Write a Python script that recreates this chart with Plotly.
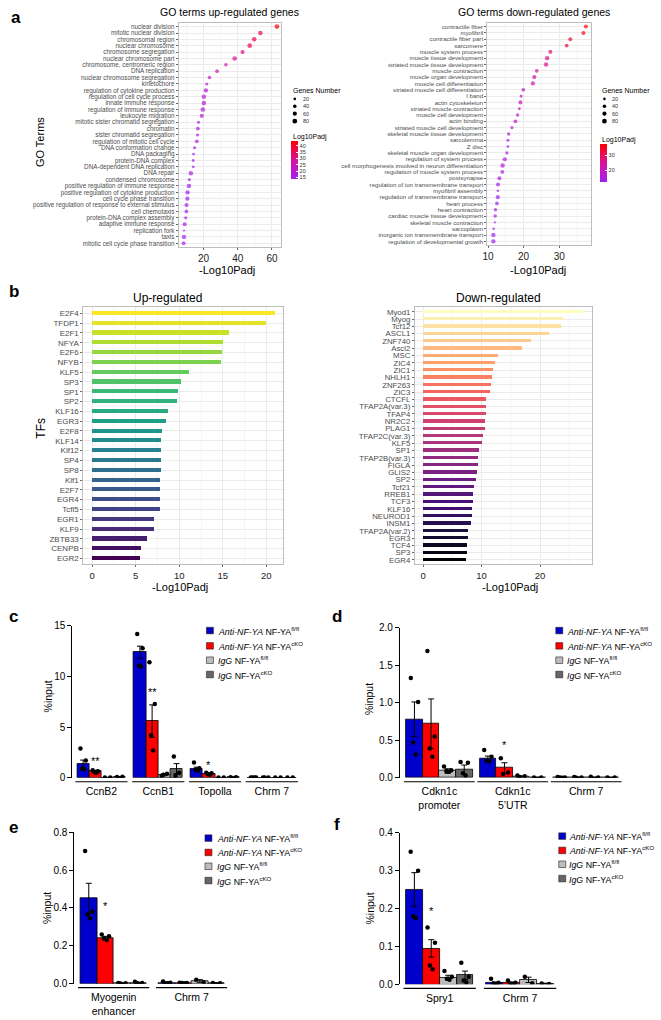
import math
import plotly.graph_objects as go
from plotly.colors import sample_colorscale, sequential

W, H = 661, 1020
FONT = "Arial, Liberation Sans, sans-serif"

# ---------------- panel a : GO terms ----------------
up_terms = ["nuclear division", "mitotic nuclear division", "chromosomal region", "nuclear chromosome",
            "chromosome segregation", "nuclear chromosome part", "chromosome, centromeric region",
            "DNA replication", "nuclear chromosome segregation", "kinetochore",
            "regulation of cytokine production", "regulation of cell cycle process", "innate immune response",
            "regulation of immune response", "leukocyte migration", "mitotic sister chromatid segregation",
            "chromatin", "sister chromatid segregation", "regulation of mitotic cell cycle",
            "DNA conformation change", "DNA packaging", "protein-DNA complex", "DNA-dependent DNA replication",
            "DNA repair", "condensed chromosome", "positive regulation of immune response",
            "positive regulation of cytokine production", "cell cycle phase transition",
            "positive regulation of response to external stimulus", "cell chemotaxis",
            "protein-DNA complex assembly", "adaptive immune response", "replication fork", "taxis",
            "mitotic cell cycle phase transition"]
up_padj = [62.9, 53.2, 49.6, 47.0, 42.8, 38.2, 33.1, 27.9, 23.5, 21.9, 21.4, 20.2, 20.2, 19.6, 19.0,
           17.1, 16.7, 16.5, 16.1, 14.8, 14.2, 14.0, 14.0, 12.6, 11.7, 11.5, 10.7, 10.6, 10.1, 10.0,
           9.6, 9.0, 8.6, 8.6, 8.4]
up_color = [42.5, 37.5, 35.5, 34.5, 32.0, 30.0, 27.0, 24.0, 21.0, 20.0, 19.5, 19.0, 19.0, 18.5, 18.0,
            17.0, 17.0, 16.5, 16.5, 16.0, 15.5, 15.5, 15.5, 15.0, 14.5, 14.5, 14.0, 14.0, 14.0, 14.0,
            13.8, 13.8, 13.6, 13.6, 13.5]
up_genes = [80, 75, 70, 80, 60, 75, 40, 45, 40, 30, 65, 70, 75, 75, 55, 30, 50, 30, 45, 30, 25, 25, 25,
            70, 30, 70, 65, 60, 60, 45, 30, 55, 15, 65, 50]

down_terms = ["contractile fiber", "myofibril", "contractile fiber part", "sarcomere", "muscle system process",
              "muscle tissue development", "striated muscle tissue development", "muscle contraction",
              "muscle organ development", "muscle cell differentiation", "striated muscle cell differentiation",
              "I band", "actin cytoskeleton", "striated muscle contraction", "muscle cell development",
              "actin binding", "striated muscle cell development", "skeletal muscle tissue development",
              "sarcolemma", "Z disc", "skeletal muscle organ development", "regulation of system process",
              "cell morphogenesis involved in neuron differentiation", "regulation of muscle system process",
              "postsynapse", "regulation of ion transmembrane transport", "myofibril assembly",
              "regulation of transmembrane transport", "heart process", "heart contraction",
              "cardiac muscle tissue development", "skeletal muscle contraction", "sarcoplasm",
              "inorganic ion transmembrane transport", "regulation of developmental growth"]
down_padj = [37.5, 36.8, 33.1, 32.1, 27.5, 26.6, 26.3, 23.7, 23.0, 22.6, 19.9, 19.3, 19.1, 18.8, 18.3,
             17.7, 16.7, 15.8, 15.6, 15.6, 15.3, 14.7, 14.1, 14.0, 13.2, 12.8, 12.75, 12.75, 12.5, 12.1,
             12.0, 11.9, 11.6, 11.5, 11.5]
down_genes = [55, 55, 50, 45, 55, 65, 65, 45, 60, 60, 45, 30, 55, 25, 35, 50, 30, 35, 30, 25, 35, 60,
              70, 45, 55, 55, 20, 60, 45, 40, 40, 15, 20, 65, 65]
size_keys = [20, 40, 60, 80]

# ---------------- panel b : TFs ----------------
tf_up = ["E2F4", "TFDP1", "E2F1", "NFYA", "E2F6", "NFYB", "KLF5", "SP3", "SP1", "SP2", "KLF16", "EGR3",
         "E2F8", "KLF14", "Klf12", "SP4", "SP8", "Klf1", "E2F7", "EGR4", "Tcfl5", "EGR1", "KLF9", "ZBTB33",
         "CENPB", "EGR2"]
tf_up_val = [21.0, 20.0, 15.8, 15.1, 14.9, 14.85, 11.2, 10.2, 9.9, 9.8, 8.8, 8.5, 8.1, 7.95, 7.95, 7.9,
             7.9, 7.85, 7.8, 7.8, 7.8, 7.2, 7.2, 6.3, 5.7, 5.6]
tf_down = ["Myod1", "Myog", "Tcf12", "ASCL1", "ZNF740", "Ascl2", "MSC", "ZIC4", "ZIC1", "NHLH1", "ZNF263",
           "ZIC3", "CTCFL", "TFAP2A(var.3)", "TFAP4", "NR2C2", "PLAG1", "TFAP2C(var.3)", "KLF5", "SP1",
           "TFAP2B(var.3)", "FIGLA", "GLIS2", "SP2", "Tcf21", "RREB1", "TCF3", "KLF16", "NEUROD1", "INSM1",
           "TFAP2A(var.2)", "EGR3", "TCF4", "SP3", "EGR4"]
tf_down_val = [27.5, 23.9, 23.5, 21.5, 18.5, 16.9, 12.8, 12.3, 12.0, 11.7, 11.6, 11.5, 10.8, 10.75, 10.7,
               10.5, 10.5, 10.2, 10.0, 9.6, 9.4, 9.3, 9.25, 9.1, 8.7, 8.6, 8.5, 8.35, 8.3, 8.25, 7.7,
               7.6, 7.5, 7.45, 7.35]

# ---------------- panels c-f : ChIP-qPCR ----------------
series_names = ["<i>Anti-NF-YA</i> NF-YA<sup>fl/fl</sup>", "<i>Anti-NF-YA</i> NF-YA<sup>cKO</sup>",
                "<i>IgG</i> NF-YA<sup>fl/fl</sup>", "<i>IgG</i> NF-YA<sup>cKO</sup>"]

c_groups = ["CcnB2", "CcnB1", "Topolla", "Chrm 7"]
c_mean = [[1.35, 12.4, 0.85, 0.02], [0.65, 5.6, 0.4, 0.02], [0.03, 0.3, 0.03, 0.02], [0.08, 0.9, 0.05, 0.02]]
c_sem = [[0.4, 0.6, 0.2, 0.01], [0.1, 1.6, 0.08, 0.01], [0.02, 0.1, 0.01, 0.01], [0.03, 0.5, 0.02, 0.01]]
c_pts = [[[2.9, 1.7, 0.9, 0.85], [14.2, 12.8, 11.1, 11.0], [1.5, 0.95, 0.8, 0.7], [0.02, 0.02, 0.02, 0.02]],
         [[0.75, 0.65, 0.55, 0.5], [11.4, 7.3, 4.2, 2.7], [0.5, 0.45, 0.35, 0.3], [0.02, 0.02, 0.02]],
         [[0.02, 0.03], [0.2, 0.4, 0.3], [0.03, 0.03], [0.02, 0.02]],
         [[0.08, 0.1], [2.1, 0.5, 0.2], [0.05, 0.06], [0.02, 0.02]]]
c_sig = ["**", "**", "*", ""]
c_sig_y = [1.9, 8.7, 1.45, 0]

d_groups = ["Cdkn1c<br>promoter", "Cdkn1c<br>5’UTR", "Chrm 7"]
d_mean = [[0.78, 0.25, 0.004], [0.72, 0.13, 0.004], [0.09, 0.02, 0.006], [0.11, 0.005, 0.004]]
d_sem = [[0.23, 0.04, 0.002], [0.33, 0.07, 0.002], [0.03, 0.005, 0.003], [0.06, 0.002, 0.002]]
d_pts = [[[1.33, 1.01, 0.47, 0.31], [0.37, 0.28, 0.23, 0.22], [0.01, 0.005, 0.003, 0.002]],
         [[1.69, 0.55, 0.39, 0.28], [0.26, 0.07, 0.05], [0.01, 0.005, 0.002]],
         [[0.15, 0.10, 0.09, 0.08], [0.03, 0.02, 0.01], [0.015, 0.005]],
         [[0.21, 0.2, 0.06, 0.03], [0.005, 0.004], [0.005, 0.003]]]
d_sig = ["", "*", ""]
d_sig_y = [0, 0.46, 0]

e_groups = ["Myogenin<br>enhancer", "Chrm 7"]
e_mean = [[0.45, 0.005], [0.24, 0.004], [0.002, 0.014], [0.005, 0.003]]
e_sem = [[0.08, 0.003], [0.01, 0.002], [0.001, 0.007], [0.003, 0.002]]
e_pts = [[[0.70, 0.38, 0.366, 0.345], [0.012, 0.005, 0.002, 0.002]],
         [[0.26, 0.25, 0.24, 0.23], [0.005, 0.004, 0.003, 0.002]],
         [[0.003, 0.002, 0.001], [0.02, 0.008]],
         [[0.01, 0.004, 0.002], [0.003, 0.002]]]
e_sig = ["*", ""]
e_sig_y = [0.42, 0]

f_groups = ["Spry1", "Chrm 7"]
f_mean = [[0.25, 0.004], [0.095, 0.004], [0.018, 0.012], [0.024, 0.002]]
f_sem = [[0.045, 0.002], [0.023, 0.002], [0.006, 0.007], [0.011, 0.001]]
f_pts = [[[0.35, 0.30, 0.18, 0.175], [0.015, 0.004, 0.002, 0.001]],
         [[0.15, 0.11, 0.05, 0.04], [0.01, 0.004, 0.002, 0.001]],
         [[0.035, 0.02, 0.015, 0.012], [0.02, 0.003]],
         [[0.057, 0.02, 0.01, 0.005], [0.002, 0.001]]]
f_sig = ["*", ""]
f_sig_y = [0.20, 0]

# ---------------- styles ----------------
GO_SCALE = [[0, "#A020F0"], [0.5, "#D8119C"], [1, "#FF0000"]]
BAR_COLORS = ["#0000CC", "#FF0000", "#BDBDBD", "#666666"]
JIT = [-0.22, 0.22, -0.08, 0.08]


def dom_x(x0, x1):
    return [x0 / W, x1 / W]


def dom_y(y0, y1):
    return [1 - y1 / H, 1 - y0 / H]


def dot_px(n):
    # ggplot-like area scale for "Genes Number"
    return 1.2 + 3.8 * math.sqrt(max(n - 10, 0) / 80)


annotations = []
shapes = []


def txt(t, x, y, size, color="black", xanchor="center", yanchor="middle", angle=0):
    annotations.append(dict(text=t, x=x / W, y=1 - y / H, xref="paper", yref="paper", showarrow=False,
                            xanchor=xanchor, yanchor=yanchor, textangle=angle,
                            font=dict(size=size, color=color, family=FONT)))


fig = go.Figure()

# ---- a: dot plots ----
go_panels = [
    (up_padj, up_terms, up_color, up_genes, "", 13.5, 43.5, [15, 20, 25, 30, 35, 40], 288, 137),
    (down_padj, down_terms, down_padj, down_genes, "2", 11.6, 37.5, [20, 30], 600, 140),
]
for xs, ys, cs, gs, ax, cmin, cmax, cticks, lx, cby in go_panels:
    fig.add_trace(go.Scatter(
        x=xs, y=ys, mode="markers", xaxis="x" + ax, yaxis="y" + ax, showlegend=False,
        marker=dict(size=[dot_px(n) for n in gs], color=cs, colorscale=GO_SCALE, cmin=cmin, cmax=cmax,
                    line_width=0,
                    colorbar=dict(x=lx / W, xanchor="left", y=1 - cby / H, yanchor="top", len=38,
                                  lenmode="pixels", thickness=7, xpad=0, ypad=0, outlinewidth=0,
                                  tickvals=cticks, ticks="inside", ticklen=2, tickcolor="white",
                                  tickfont=dict(size=5.5, color="#333", family=FONT)))))
    # size legend
    txt("Genes Number", lx, 85, 7, xanchor="left")
    for i, k in enumerate(size_keys):
        cy = 94 + i * 7.5
        d = dot_px(k)
        shapes.append(dict(type="circle", xref="paper", yref="paper", xsizemode="pixel", ysizemode="pixel",
                           xanchor=(lx + 4) / W, yanchor=1 - cy / H, x0=-d / 2, x1=d / 2, y0=-d / 2, y1=d / 2,
                           fillcolor="black", line_width=0))
        txt(str(k), lx + 10, cy, 5.5, color="#333", xanchor="left")
    txt("Log10Padj", lx, cby - 4, 7, xanchor="left")

# ---- b: TF bars ----
viridis = sample_colorscale(sequential.Viridis, [1 - i / (len(tf_up) - 1) for i in range(len(tf_up))])
magma = sample_colorscale(sequential.Magma, [1 - i / (len(tf_down) - 1) for i in range(len(tf_down))])
fig.add_trace(go.Bar(x=tf_up_val, y=tf_up, orientation="h", marker=dict(color=viridis, line_width=0),
                     width=0.42, xaxis="x3", yaxis="y3", showlegend=False))
fig.add_trace(go.Bar(x=tf_down_val, y=tf_down, orientation="h", marker=dict(color=magma, line_width=0),
                     width=0.45, xaxis="x4", yaxis="y4", showlegend=False))

# ---- c-f: ChIP bar charts ----
bar_panels = [
    ("5", c_groups, c_mean, c_sem, c_pts, c_sig, c_sig_y, 0.215, 154),
    ("6", d_groups, d_mean, d_sem, d_pts, d_sig, d_sig_y, 0.226, 152),
    ("7", e_groups, e_mean, e_sem, e_pts, e_sig, e_sig_y, 0.213, 153),
    ("8", f_groups, f_mean, f_sem, f_pts, f_sig, f_sig_y, 0.21, 153),
]
for ax, groups, means, sems, pts, sig, sig_y, bw, ph in bar_panels:
    for k in range(4):
        xs = [g + (k - 1.5) * bw for g in range(len(groups))]
        fig.add_trace(go.Bar(
            x=xs, y=means[k], width=bw, xaxis="x" + ax, yaxis="y" + ax, showlegend=False,
            marker=dict(color=BAR_COLORS[k], line=dict(color="black", width=0.8)),
            error_y=dict(type="data", array=sems[k], color="black", thickness=1, width=3)))
    for k in range(4):
        dx, dy = [], []
        for g in range(len(groups)):
            for j, v in enumerate(pts[k][g]):
                dx.append(g + (k - 1.5) * bw + JIT[j % 4] * bw)
                dy.append(v)
        fig.add_trace(go.Scatter(x=dx, y=dy, mode="markers", xaxis="x" + ax, yaxis="y" + ax,
                                 marker=dict(color="black", size=4.5), showlegend=False))
    for g in range(len(groups)):
        shapes.append(dict(type="line", xref="x" + ax, yref="y" + ax + " domain",
                           x0=g - 2 * bw - 0.03, x1=g + 2 * bw + 0.03, y0=-4 / ph, y1=-4 / ph,
                           line=dict(color="black", width=1.2)))
        if sig[g]:
            annotations.append(dict(text=sig[g], x=g - 0.5 * bw, y=sig_y[g], xref="x" + ax, yref="y" + ax,
                                    showarrow=False, yanchor="middle", yshift=-2,
                                    font=dict(size=11, color="#000000", family=FONT)))

# manual legends for c-f
leg_pos = [(203, 213, [632, 647.5, 662, 676.5]), (555, 564, [632, 647.5, 662, 676.5]),
           (201.5, 212, [842, 856.5, 870.5, 885]), (558, 566.5, [840, 854.5, 868.5, 883])]
for sx, tx, ys in leg_pos:
    for k in range(4):
        shapes.append(dict(type="rect", xref="paper", yref="paper", x0=sx / W, x1=(sx + 7) / W,
                           y0=1 - (ys[k] + 3.3) / H, y1=1 - (ys[k] - 3.3) / H,
                           fillcolor=BAR_COLORS[k], line=dict(color="#222", width=0.6)))
        txt(series_names[k], tx, ys[k], 8.8, xanchor="left")

# ---- axis styles ----
go_ax = dict(showline=True, mirror=True, linecolor="#BDBDBD", linewidth=1, gridcolor="#EBEBEB",
             zeroline=False, ticks="outside", ticklen=2, tickcolor="#666")
chip_y = dict(showline=True, linecolor="black", linewidth=1.2, ticks="outside", ticklen=4, tickwidth=1.2,
              tickcolor="black", showgrid=False, zeroline=False, tickfont=dict(size=10, color="black"))
chip_x = dict(showline=False, showgrid=False, zeroline=False, ticks="", ticklabelstandoff=6,
              tickfont=dict(size=10.5, color="black"))


def cat_ax(labels, size):
    return dict(tickmode="array", tickvals=labels, ticktext=labels, range=[len(labels) - 0.4, -0.6],
                tickfont=dict(size=size, color="#4D4D4D"), **go_ax)


fig.update_layout(
    width=W, height=H, margin=dict(l=0, r=0, t=0, b=0), autosize=False,
    paper_bgcolor="white", plot_bgcolor="white", barmode="overlay", bargap=0,
    font=dict(family=FONT, color="black"),
    # a left
    xaxis=dict(domain=dom_x(175, 278), anchor="y", range=[5.5, 65.2], tickvals=[20, 40, 60],
               minor=dict(showgrid=True, gridcolor="#F5F5F5", tick0=0, dtick=10),
               tickfont=dict(size=10, color="#222"), **go_ax),
    yaxis=dict(domain=dom_y(17, 244), anchor="x", **cat_ax(up_terms, 6.3)),
    # a right
    xaxis2=dict(domain=dom_x(486, 590), anchor="y2", range=[9.8, 38.8], tickvals=[10, 20, 30],
                minor=dict(showgrid=True, gridcolor="#F5F5F5", tick0=5, dtick=10),
                tickfont=dict(size=10, color="#222"), **go_ax),
    yaxis2=dict(domain=dom_y(17, 242), anchor="x2", **cat_ax(down_terms, 6.1)),
    # b left
    xaxis3=dict(domain=dom_x(79, 280), anchor="y3", range=[-1.0, 21.9], tickvals=[0, 5, 10, 15, 20],
                minor=dict(showgrid=True, gridcolor="#F5F5F5", tick0=2.5, dtick=5),
                tickfont=dict(size=9.5, color="#222"), **go_ax),
    yaxis3=dict(domain=dom_y(305, 565), anchor="x3", **cat_ax(tf_up, 8)),
    # b right
    xaxis4=dict(domain=dom_x(413, 591), anchor="y4", range=[-1.4, 28.8], tickvals=[0, 10, 20],
                minor=dict(showgrid=True, gridcolor="#F5F5F5", tick0=5, dtick=10),
                tickfont=dict(size=9.5, color="#222"), **go_ax),
    yaxis4=dict(domain=dom_y(305, 565), anchor="x4", **cat_ax(tf_down, 7.8)),
    # c
    xaxis5=dict(domain=dom_x(68, 300), anchor="y5", range=[-0.51, 3.545], tickvals=list(range(len(c_groups))),
                ticktext=c_groups, **chip_x),
    yaxis5=dict(domain=dom_y(627.3, 781), anchor="x5", range=[0, 15], dtick=5, **chip_y),
    # d
    xaxis6=dict(domain=dom_x(398, 630), anchor="y6", range=[-0.536, 2.6], tickvals=list(range(len(d_groups))),
                ticktext=d_groups, **chip_x),
    yaxis6=dict(domain=dom_y(629, 781), anchor="x6", range=[0, 2.0], dtick=0.5, tickformat=".1f", **chip_y),
    # e
    xaxis7=dict(domain=dom_x(70, 232), anchor="y7", range=[-0.503, 1.56], tickvals=list(range(len(e_groups))),
                ticktext=e_groups, **chip_x),
    yaxis7=dict(domain=dom_y(836, 989.3), anchor="x7", range=[0, 0.8], dtick=0.2, tickformat=".1f", **chip_y),
    # f
    xaxis8=dict(domain=dom_x(398, 560), anchor="y8", range=[-0.494, 1.506], tickvals=list(range(len(f_groups))),
                ticktext=f_groups, **chip_x),
    yaxis8=dict(domain=dom_y(836.7, 990), anchor="x8", range=[0, 0.4], dtick=0.1, tickformat=".1f", **chip_y),
)

# titles and labels
txt("GO terms up-regulated genes", 226, 6, 10.5)
txt("GO terms down-regulated genes", 533, 6, 10.5)
txt("-Log10Padj", 224, 267, 11)
txt("-Log10Padj", 537, 267, 11)
txt("GO Terms", 36, 138, 11, angle=-90)
txt("Up-regulated", 164, 295, 12)
txt("Down-regulated", 497, 295, 12)
txt("TFs", 36, 427, 12, angle=-90)
txt("-Log10Padj", 176, 588, 11)
txt("-Log10Padj", 509, 588, 11)
for lab, x, y in [("%input", 43, 699), ("%input", 367, 701), ("%input", 43, 913), ("%input", 368, 913)]:
    txt(lab, x, y, 10.5, angle=-90)
for lab, x, y in [("a", 11, 12), ("b", 9, 289), ("c", 9, 618), ("d", 335, 618), ("e", 9, 831), ("f", 335, 828)]:
    txt("<b>" + lab + "</b>", x, y, 17)

fig.update_layout(annotations=annotations, shapes=shapes)
# page body margin would push the 661x1020 figure off the window
fig.write_html("out.html", config={"displayModeBar": False},
               post_script="document.body.style.margin='0px';")
